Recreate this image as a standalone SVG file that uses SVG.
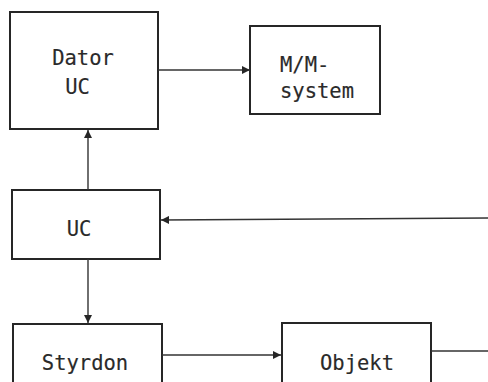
<svg xmlns="http://www.w3.org/2000/svg" width="488" height="382" viewBox="0 0 488 382">
<style>
.box{fill:none;stroke:#262626;stroke-width:2}
.ln{fill:none;stroke:#333;stroke-width:1.4}
text{font-family:"DejaVu Sans Mono","Liberation Mono",monospace;font-size:20.5px;fill:#2a2a2a;stroke:#2a2a2a;stroke-width:0.15}
</style>
<defs>
<marker id="ah" viewBox="0 0 10 10" refX="10" refY="5" markerWidth="9" markerHeight="8" markerUnits="userSpaceOnUse" orient="auto">
<path d="M0,0 L10,5 L0,10 z" fill="#262626"/>
</marker>
</defs>
<rect width="488" height="382" fill="#fff"/>
<g id="dator">
<rect class="box" x="10" y="12" width="148" height="117"/>
<text x="83" y="65" text-anchor="middle">Dator</text>
<text x="77.5" y="94" text-anchor="middle">UC</text>
</g>
<g id="mm">
<rect class="box" x="250" y="26" width="130" height="88"/>
<text x="280" y="72">M/M-</text>
<text x="280" y="98">system</text>
</g>
<g id="uc">
<rect class="box" x="12" y="190" width="148" height="69"/>
<text x="79" y="236" text-anchor="middle">UC</text>
</g>
<g id="styrdon">
<rect class="box" x="13" y="324" width="149" height="70"/>
<text x="85" y="370" text-anchor="middle">Styrdon</text>
</g>
<g id="objekt">
<rect class="box" x="282" y="323" width="149" height="70"/>
<text x="357" y="370" text-anchor="middle">Objekt</text>
</g>
<g id="connectors">
<line class="ln" x1="158" y1="70" x2="250" y2="70" marker-end="url(#ah)"/>
<line class="ln" x1="88" y1="190" x2="88" y2="130" marker-end="url(#ah)"/>
<line class="ln" x1="488" y1="218" x2="161" y2="220" marker-end="url(#ah)"/>
<line class="ln" x1="88" y1="259" x2="88" y2="323" marker-end="url(#ah)"/>
<line class="ln" x1="162" y1="355" x2="281" y2="355" marker-end="url(#ah)"/>
<line class="ln" x1="431" y1="351" x2="488" y2="351"/>
</g>
</svg>
